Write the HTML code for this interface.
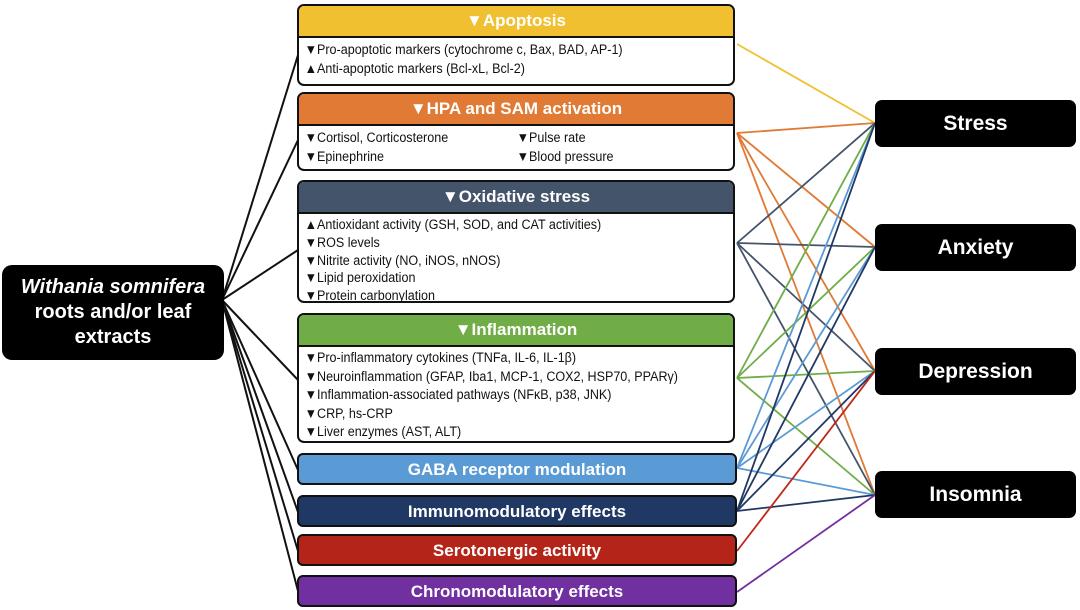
<!DOCTYPE html>
<html><head><meta charset="utf-8"><style>
body{margin:0;width:1080px;height:610px;background:#fff;position:relative;overflow:hidden;font-family:"Liberation Sans",sans-serif}
.b{position:absolute;left:297px;width:438px;border:2px solid #111;border-radius:7px;background:#fff;overflow:hidden;box-sizing:border-box}
.h{height:30px;line-height:30px;color:#fff;font-weight:bold;font-size:17px;text-align:center;border-bottom:2px solid #111}
.t{font-size:13.5px;line-height:18.5px;padding:1px 0 0 6px;color:#111;transform:scaleX(0.93);transform-origin:left;white-space:nowrap}
.s{position:absolute;left:297px;width:440px;height:32px;border:2px solid #111;border-radius:6px;color:#fff;font-weight:bold;font-size:17px;text-align:center;line-height:30px;box-sizing:border-box}
.r{position:absolute;left:875px;width:201px;height:47px;background:#000;border-radius:7px;color:#fff;font-weight:bold;font-size:21px;text-align:center;line-height:47px}
svg{position:absolute;left:0;top:0}
</style></head><body>
<svg width="1080" height="610">
<g stroke="#111" stroke-width="2" fill="none">
<line x1="222" y1="300" x2="298" y2="55"/><line x1="222" y1="300" x2="298" y2="140"/><line x1="222" y1="300" x2="298" y2="250"/><line x1="222" y1="300" x2="298" y2="380"/><line x1="222" y1="300" x2="298" y2="470"/><line x1="222" y1="300" x2="298" y2="512"/><line x1="222" y1="300" x2="298" y2="551"/><line x1="222" y1="300" x2="298" y2="591"/>
</g>
<g stroke-width="1.8" fill="none">
<line x1="737" y1="44" x2="875" y2="123" stroke="#f0c030"/>
<g stroke="#e07a34"><line x1="737" y1="133" x2="875" y2="123"/><line x1="737" y1="133" x2="875" y2="247"/><line x1="737" y1="133" x2="875" y2="371"/><line x1="737" y1="133" x2="875" y2="495"/></g>
<g stroke="#44546a"><line x1="737" y1="243" x2="875" y2="123"/><line x1="737" y1="243" x2="875" y2="247"/><line x1="737" y1="243" x2="875" y2="371"/><line x1="737" y1="243" x2="875" y2="495"/></g>
<g stroke="#70ad47"><line x1="737" y1="378" x2="875" y2="123"/><line x1="737" y1="378" x2="875" y2="247"/><line x1="737" y1="378" x2="875" y2="371"/><line x1="737" y1="378" x2="875" y2="495"/></g>
<g stroke="#5b9bd5"><line x1="737" y1="468" x2="875" y2="123"/><line x1="737" y1="468" x2="875" y2="247"/><line x1="737" y1="468" x2="875" y2="371"/><line x1="737" y1="468" x2="875" y2="495"/></g>
<g stroke="#203864"><line x1="737" y1="511" x2="875" y2="123"/><line x1="737" y1="511" x2="875" y2="247"/><line x1="737" y1="511" x2="875" y2="371"/><line x1="737" y1="511" x2="875" y2="495"/></g>
<line x1="737" y1="551" x2="875" y2="371" stroke="#c0281c"/>
<line x1="737" y1="592" x2="875" y2="495" stroke="#7030a0"/>
</g>
</svg>
<div style="position:absolute;left:2px;top:265px;width:222px;height:95px;background:#000;border-radius:10px;color:#fff;font-weight:bold;font-size:20px;line-height:25px;text-align:center;padding-top:10px;box-sizing:border-box"><i>Withania somnifera</i><br>roots and/or leaf<br>extracts</div>

<div class="b" style="top:4px;height:82px"><div class="h" style="background:#f0c030">▼Apoptosis</div><div class="t" style="padding-top:3px">▼Pro-apoptotic markers (cytochrome c, Bax, BAD, AP-1)<br>▲Anti-apoptotic markers (Bcl-xL, Bcl-2)</div></div>
<div class="b" style="top:92px;height:79px"><div class="h" style="background:#e07a34">▼HPA and SAM activation</div><div class="t" style="position:relative;padding-top:3px">▼Cortisol, Corticosterone<br>▼Epinephrine<div style="position:absolute;left:234px;top:3px">▼Pulse rate<br>▼Blood pressure</div></div></div>
<div class="b" style="top:180px;height:123px"><div class="h" style="background:#44546a">▼Oxidative stress</div><div class="t" style="line-height:17.8px;padding-top:2px">▲Antioxidant activity (GSH, SOD, and CAT activities)<br>▼ROS levels<br>▼Nitrite activity (NO, iNOS, nNOS)<br>▼Lipid peroxidation<br>▼Protein carbonylation</div></div>
<div class="b" style="top:313px;height:130px"><div class="h" style="background:#70ad47">▼Inflammation</div><div class="t" style="line-height:18.6px;padding-top:2px">▼Pro-inflammatory cytokines (TNFa, IL-6, IL-1β)<br>▼Neuroinflammation (GFAP, Iba1, MCP-1, COX2, HSP70, PPARγ)<br>▼Inflammation-associated pathways (NFκB, p38, JNK)<br>▼CRP, hs-CRP<br>▼Liver enzymes (AST, ALT)</div></div>
<div class="s" style="top:453px;background:#5b9bd5">GABA receptor modulation</div>
<div class="s" style="top:495px;background:#203864">Immunomodulatory effects</div>
<div class="s" style="top:534px;background:#b52418">Serotonergic activity</div>
<div class="s" style="top:575px;background:#7030a0">Chronomodulatory effects</div>

<div class="r" style="top:100px">Stress</div>
<div class="r" style="top:224px">Anxiety</div>
<div class="r" style="top:348px">Depression</div>
<div class="r" style="top:471px">Insomnia</div>
</body></html>
